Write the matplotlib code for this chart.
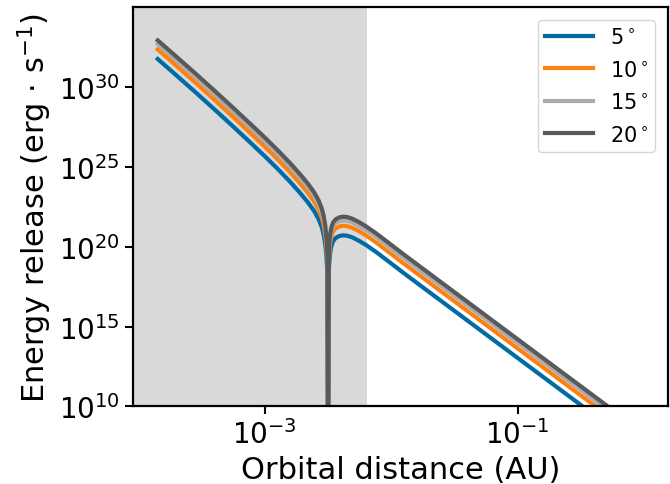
import numpy as np
import matplotlib
matplotlib.use("Agg")
import matplotlib.pyplot as plt

# log10 of orbital distance (AU)
log_dist = [-3.847, -3.70, -3.55, -3.40, -3.25, -3.10, -3.00, -2.90, -2.80, -2.72,
            -2.66, -2.61, -2.575, -2.55, -2.535, -2.522, -2.512, -2.505, -2.499, -2.493,
            -2.485, -2.475, -2.46, -2.44, -2.41, -2.38, -2.35, -2.31, -2.26, -2.20,
            -2.12, -2.02, -1.90, -1.70, -1.40, -1.10, -0.80, -0.50, -0.25, 0.0]

# log10 of energy release (erg/s) for each inclination
log_e5 = [31.77, 30.75, 29.70, 28.63, 27.54, 26.43, 25.68, 24.90, 24.08, 23.37,
          22.80, 22.25, 21.75, 21.25, 20.80, 20.20, 19.40, 18.40, 5.00, 18.60,
          19.50, 20.00, 20.35, 20.55, 20.68, 20.72, 20.70, 20.60, 20.40, 20.12,
          19.68, 19.08, 18.35, 17.17, 15.40, 13.63, 11.86, 10.09, 8.62, 7.15]
log_e10 = [32.37, 31.35, 30.30, 29.23, 28.14, 27.03, 26.28, 25.50, 24.68, 23.97,
           23.40, 22.85, 22.35, 21.85, 21.40, 20.80, 20.00, 19.00, 5.00, 19.20,
           20.10, 20.60, 20.95, 21.15, 21.28, 21.32, 21.30, 21.20, 21.00, 20.72,
           20.28, 19.68, 18.95, 17.77, 16.00, 14.23, 12.46, 10.69, 9.22, 7.75]
log_e15 = [32.71, 31.69, 30.64, 29.57, 28.48, 27.37, 26.62, 25.84, 25.02, 24.31,
           23.74, 23.19, 22.69, 22.19, 21.74, 21.14, 20.34, 19.34, 5.00, 19.54,
           20.44, 20.94, 21.29, 21.49, 21.62, 21.66, 21.64, 21.54, 21.34, 21.06,
           20.62, 20.02, 19.29, 18.11, 16.34, 14.57, 12.80, 11.03, 9.56, 8.09]
log_e20 = [32.94, 31.92, 30.87, 29.80, 28.71, 27.60, 26.85, 26.07, 25.25, 24.54,
           23.97, 23.42, 22.92, 22.42, 21.97, 21.37, 20.57, 19.57, 5.00, 19.77,
           20.67, 21.17, 21.52, 21.72, 21.85, 21.89, 21.87, 21.77, 21.57, 21.29,
           20.85, 20.25, 19.52, 18.34, 16.57, 14.80, 13.03, 11.26, 9.79, 8.32]

labels = ["5$^\\circ$", "10$^\\circ$", "15$^\\circ$", "20$^\\circ$"]
colors = ["#006BA4", "#FF800E", "#ABABAB", "#595959"]
shade_edge = 10 ** -2.189

fig = plt.figure(figsize=(6.7, 4.85), dpi=100)
ax = fig.add_axes([0.199, 0.160, 0.798, 0.8225])

x = 10 ** np.array(log_dist)
for ys, lab, c in zip([log_e5, log_e10, log_e15, log_e20], labels, colors):
    ax.plot(x, 10 ** np.array(ys), color=c, lw=3, label=lab,
            solid_joinstyle="round")

ax.axvspan(1e-6, shade_edge, color="#d9d9d9", zorder=0, lw=0)

ax.set_xscale("log")
ax.set_yscale("log")
ax.set_xlim(10 ** -4.04, 10 ** 0.19)
ax.set_ylim(1e10, 1e35)
ax.set_xticks([1e-3, 1e-1])
ax.set_yticks([1e10, 1e15, 1e20, 1e25, 1e30])
ax.minorticks_off()
ax.tick_params(labelsize=20, length=6, width=1.5)
for s in ax.spines.values():
    s.set_linewidth(1.6)

ax.set_xlabel("Orbital distance (AU)", fontsize=22)
ax.set_ylabel("Energy release (erg $\\cdot$ s$^{-1}$)", fontsize=22)
ax.legend(loc="upper right", fontsize=15, handlelength=2.3,
          labelspacing=0.6, borderpad=0.35, borderaxespad=0.6)

fig.savefig("out.png", dpi=100)
